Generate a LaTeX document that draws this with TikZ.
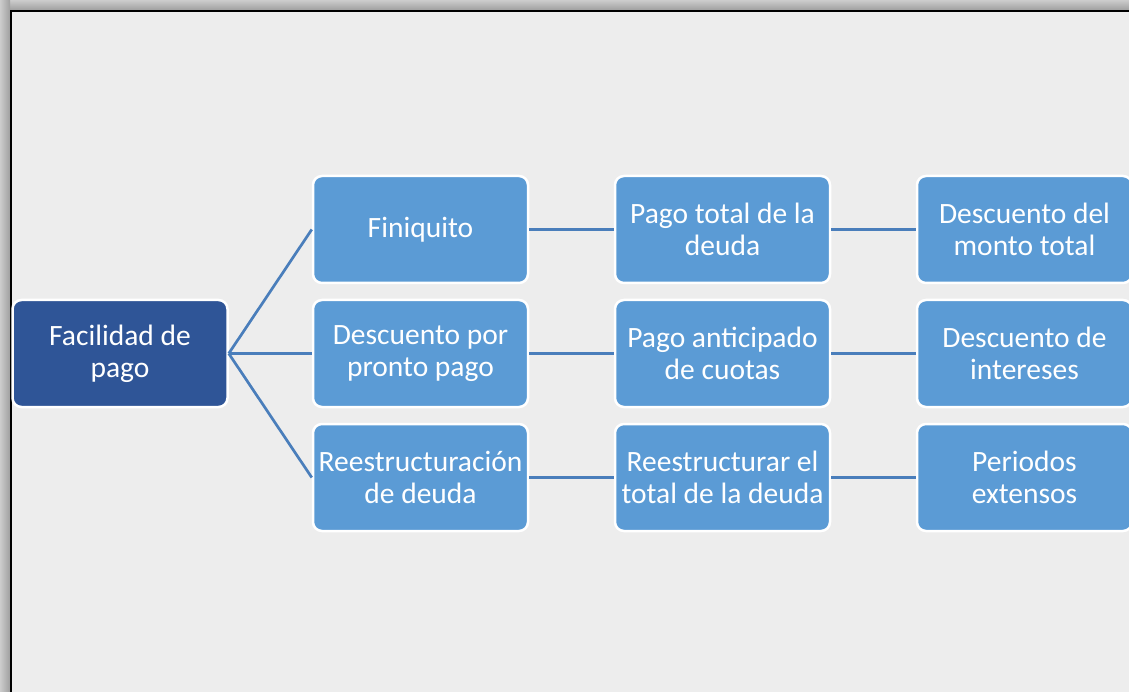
\documentclass[tikz,border=0pt]{standalone}
\usepackage{fontspec}
\setmainfont{Carlito}
\begin{document}
\begin{tikzpicture}[x=1pt,y=-1pt,
  box/.style={draw=white,line width=2.5pt,rounded corners=9pt,minimum width=215pt,minimum height=107pt,inner sep=0pt,align=center,text=white,font=\fontsize{29.5}{32}\selectfont},
  lbox/.style={box,fill=lblue},
  dbox/.style={box,fill=dblue},
  conn/.style={draw=lineblue,line width=2.7pt}]
\definecolor{lblue}{HTML}{5B9BD5}
\definecolor{dblue}{HTML}{2F5597}
\definecolor{lineblue}{HTML}{4A7EBB}
\definecolor{bg}{HTML}{EDEDED}
\useasboundingbox (0,0) rectangle (1129,692);
% shadow strips
\shade[top color=gray!40,bottom color=gray!75] (0,0) rectangle (1129,10);
\shade[left color=gray!40,right color=gray!75] (0,0) rectangle (10,692);
\fill[bg] (10,10) rectangle (1129,692);
\draw[black,line width=2.5pt] (11.2,692) -- (11.2,11.2) -- (1129,11.2);
% nodes
\node[dbox] (root) at (120,353.5) {Facilidad de\\pago};
\node[lbox] (a1) at (420.5,229.5) {Finiquito};
\node[lbox] (b1) at (420.5,353.5) {Descuento por\\pronto pago};
\node[lbox] (c1) at (420.5,477.5) {Reestructuración\\de deuda};
\node[lbox] (a2) at (722.5,229.5) {Pago total de la\\deuda};
\node[lbox] (b2) at (722.5,353.5) {Pago anticipado\\de cuotas};
\node[lbox] (c2) at (722.5,477.5) {Reestructurar el\\total de la deuda};
\node[lbox] (a3) at (1024.5,229.5) {Descuento del\\monto total};
\node[lbox] (b3) at (1024.5,353.5) {Descuento de\\intereses};
\node[lbox] (c3) at (1024.5,477.5) {Periodos\\extensos};
% connectors
\draw[conn] (root.east) -- (a1.west);
\draw[conn] (root.east) -- (b1.west);
\draw[conn] (root.east) -- (c1.west);
\draw[conn] (a1.east) -- (a2.west);
\draw[conn] (b1.east) -- (b2.west);
\draw[conn] (c1.east) -- (c2.west);
\draw[conn] (a2.east) -- (a3.west);
\draw[conn] (b2.east) -- (b3.west);
\draw[conn] (c2.east) -- (c3.west);
\end{tikzpicture}
\end{document}
